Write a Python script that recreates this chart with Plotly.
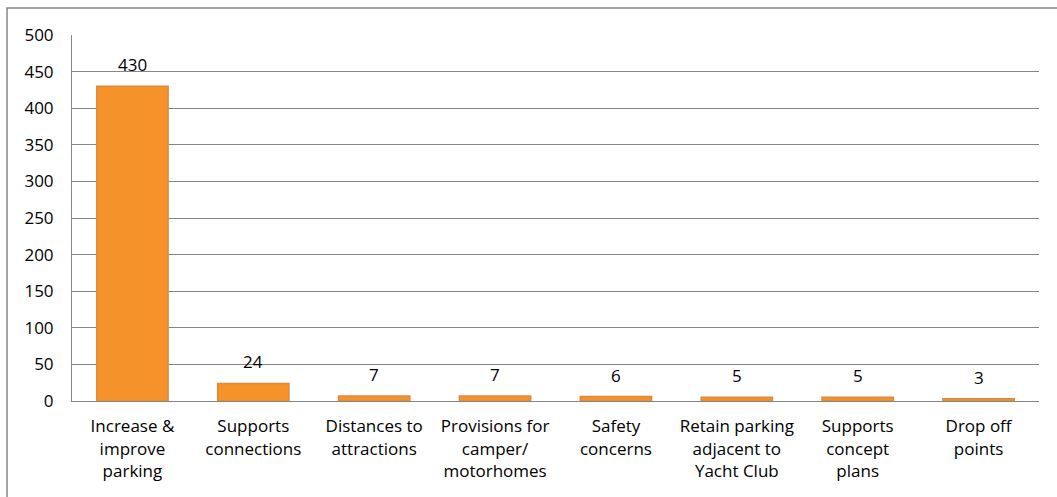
import plotly.graph_objects as go

categories = ["Increase &<br>improve<br>parking", "Supports<br>connections", "Distances to<br>attractions",
              "Provisions for<br>camper/<br>motorhomes", "Safety<br>concerns",
              "Retain parking<br>adjacent to<br>Yacht Club", "Supports<br>concept<br>plans", "Drop off<br>points"]
values = [430, 24, 7, 7, 6, 5, 5, 3]
y_ticks = [0, 50, 100, 150, 200, 250, 300, 350, 400, 450, 500]

FONT = "Open Sans, Liberation Sans, sans-serif"

fig = go.Figure()
fig.add_trace(go.Bar(
    x=categories, y=values,
    marker=dict(color="#F5922A", line=dict(color="#DF8A3A", width=1.5)),
    width=0.59,
    hoverinfo="skip",
))

for c, v in zip(categories, values):
    fig.add_annotation(x=c, y=v, text=str(v), showarrow=False, yanchor="bottom", yshift=8,
                       font=dict(size=17, color="#000000", family=FONT))

fig.update_layout(
    width=1057, height=497,
    margin=dict(l=72, r=18, t=35, b=96),
    paper_bgcolor="white", plot_bgcolor="white",
    showlegend=False,
    font=dict(family=FONT, size=17, color="#000000"),
    xaxis=dict(showgrid=False, showline=True, linecolor="#868686", linewidth=1,
               tickfont=dict(size=17), ticks="", ticklabelstandoff=10),
    yaxis=dict(range=[0, 500], tickvals=y_ticks, showgrid=True, gridcolor="#868686", gridwidth=1,
               showline=True, linecolor="#868686", linewidth=1, zeroline=False,
               tickfont=dict(size=17), ticks="", ticklabelstandoff=14),
    shapes=[dict(type="rect", xref="paper", yref="paper",
                 x0=-0.0672, x1=1.1, y0=-0.4, y1=1.0738,
                 line=dict(color="#868686", width=1.5), fillcolor="rgba(0,0,0,0)", layer="below")],
)

fig.write_html("out.html", config={"displayModeBar": False},
               post_script="document.body.style.margin='0';")
